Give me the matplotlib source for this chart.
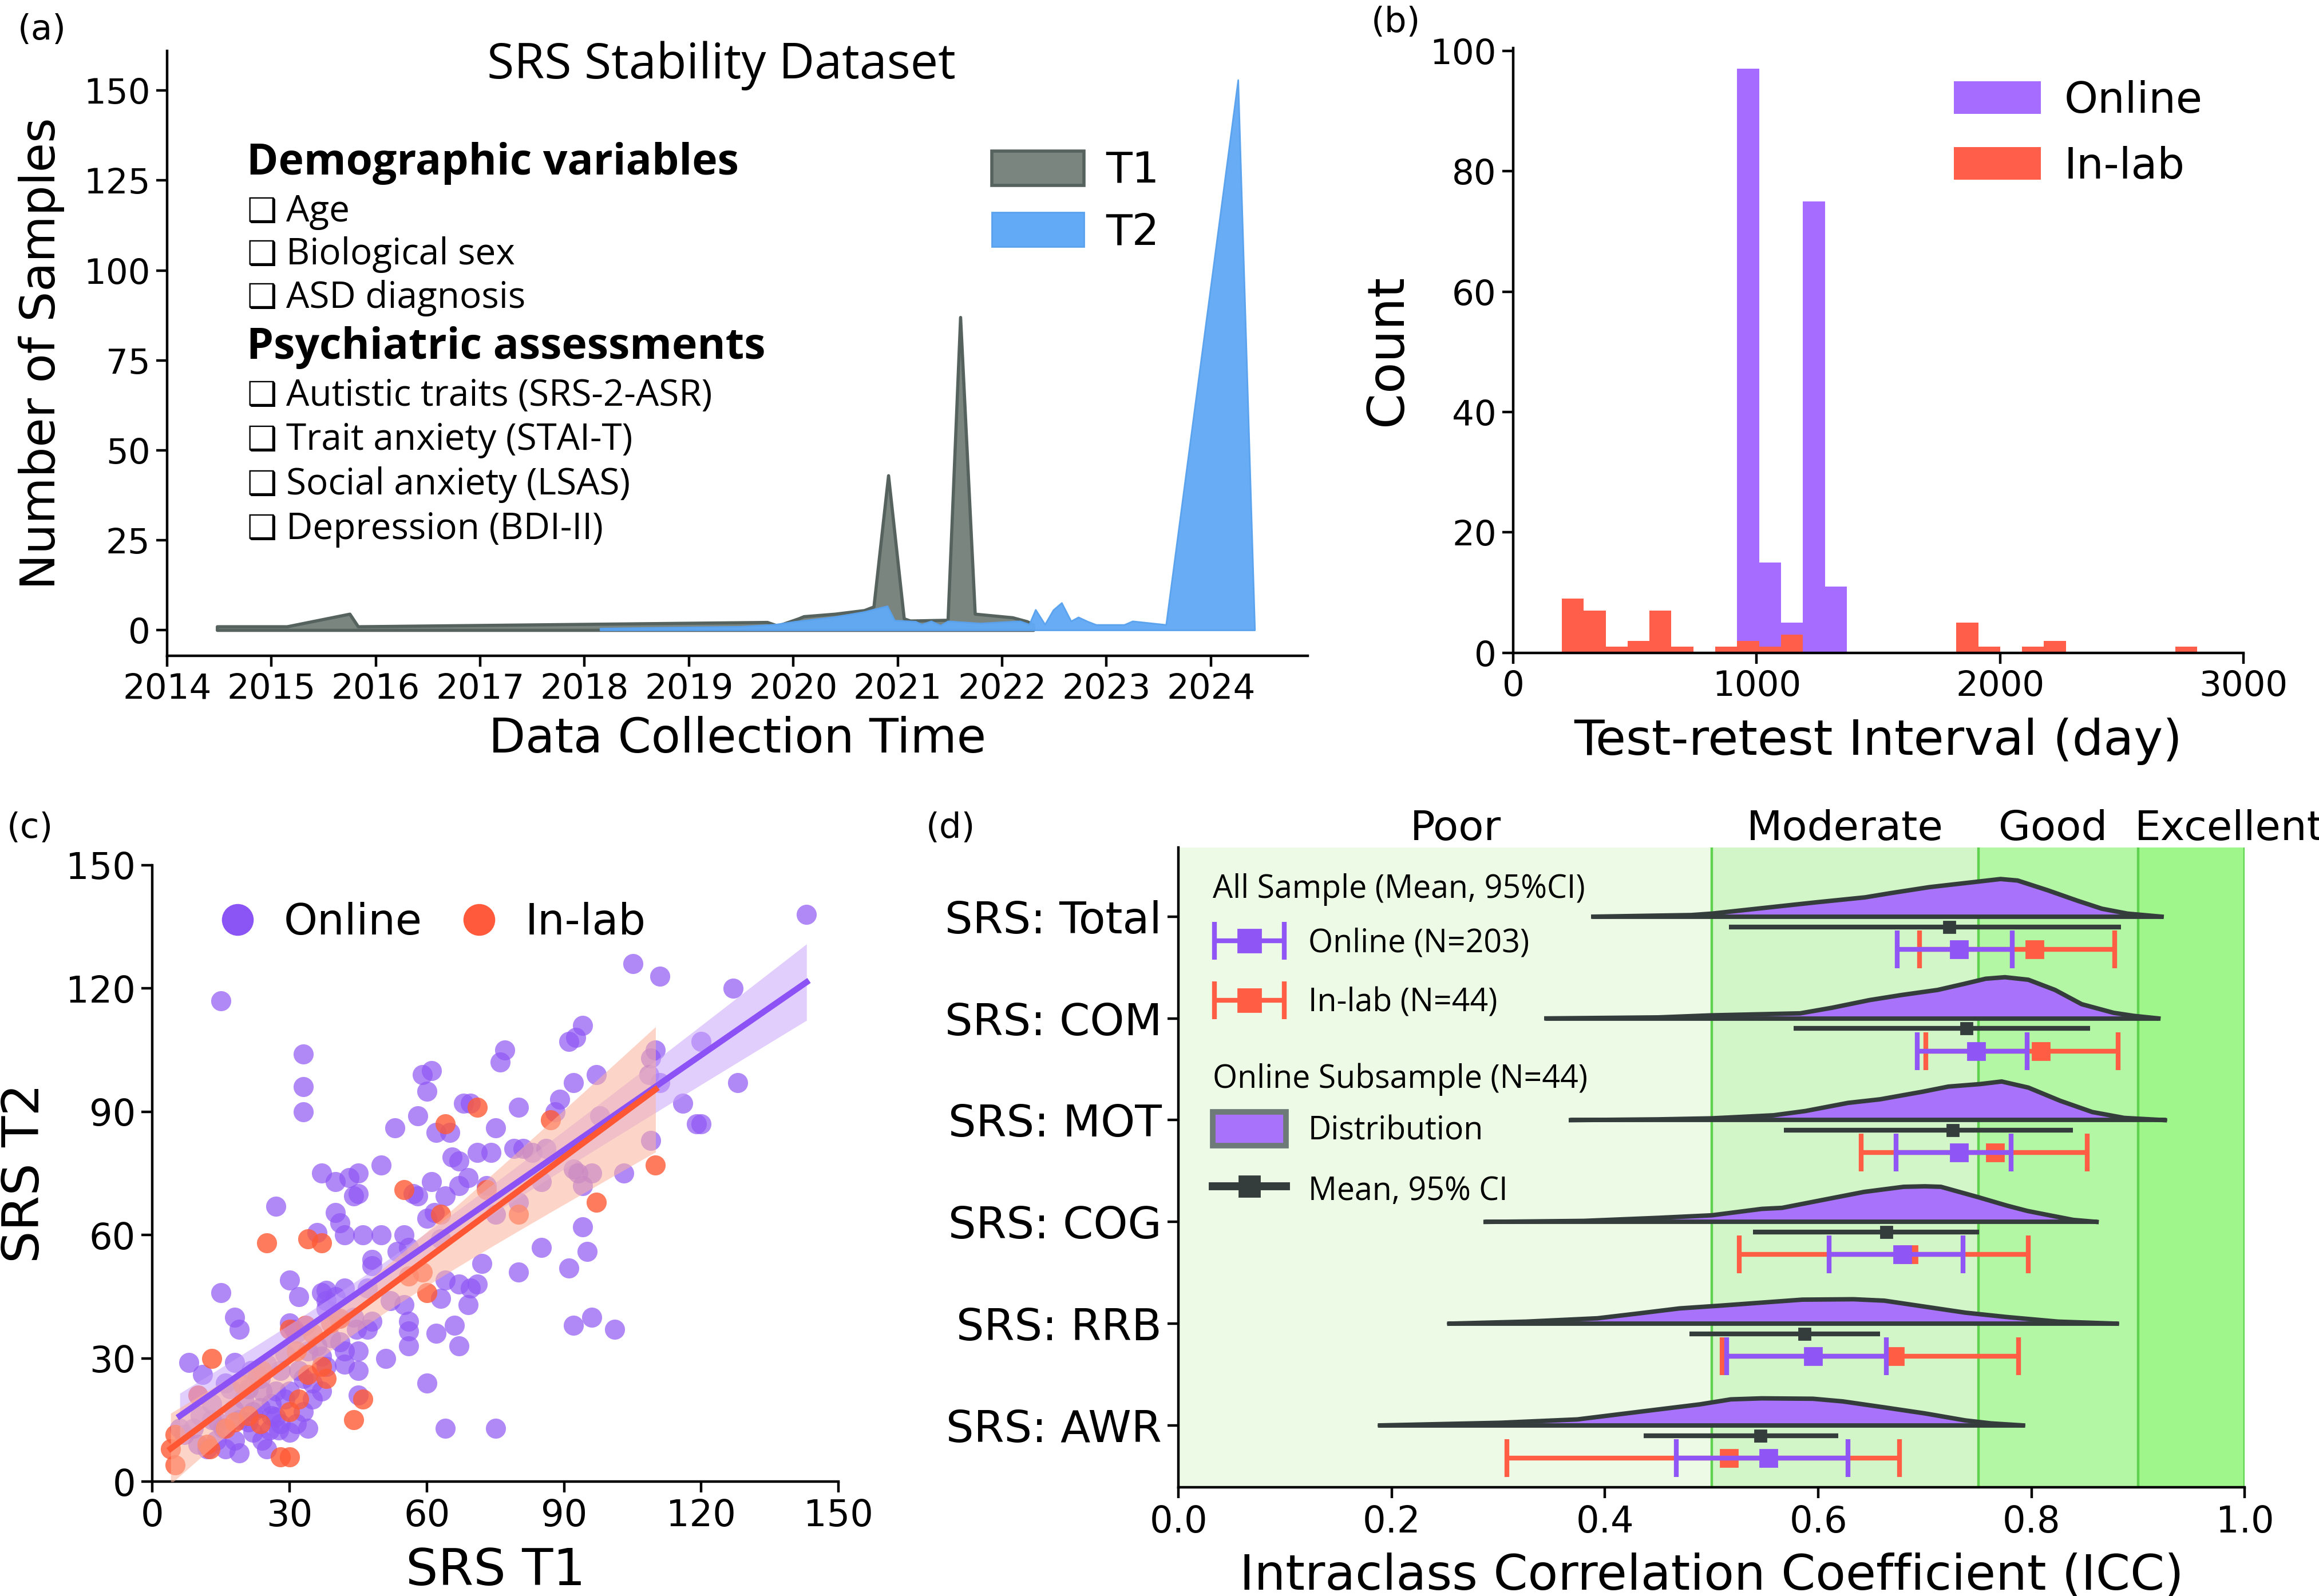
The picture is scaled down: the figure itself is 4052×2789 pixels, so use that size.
import numpy as np
import matplotlib.pyplot as plt
from matplotlib.patches import Patch
from matplotlib.lines import Line2D
from matplotlib.legend_handler import HandlerErrorbar
from matplotlib.container import ErrorbarContainer
import matplotlib.transforms as mtransforms

plt.rcParams['font.family'] = ['DejaVu Sans']
plt.rcParams['font.size'] = 22
plt.rcParams['axes.linewidth'] = 1.6
for k in ('xtick', 'ytick'):
    plt.rcParams[k + '.major.width'] = 1.6
    plt.rcParams[k + '.major.size'] = 7
    plt.rcParams[k + '.labelsize'] = 22

OPEN = ['Open Sans', 'DejaVu Sans']

# ---------------- (a) data collection timeline ----------------
t1_time = [2014.48, 2015.15, 2015.75, 2015.83, 2019.75, 2019.85, 2020.05, 2020.10, 2020.40,
           2020.68, 2020.77, 2020.91, 2021.06, 2021.12, 2021.48, 2021.60, 2021.74, 2022.10,
           2022.24, 2022.30]
t1_count = [1.0, 1.0, 4.5, 1.0, 2.2, 1.2, 3.2, 3.8, 4.5,
            5.5, 6.5, 43, 3.2, 2.6, 2.8, 87, 4.5, 3.5,
            2.4, 1.5]
t2_time = [2018.15, 2019.50, 2019.83, 2020.02, 2020.40, 2020.68, 2020.90, 2020.97, 2021.17,
           2021.23, 2021.32, 2021.41, 2021.48, 2021.79, 2021.97, 2022.17, 2022.26, 2022.32,
           2022.41, 2022.49, 2022.57, 2022.66, 2022.73, 2022.82, 2022.90, 2023.17, 2023.25,
           2023.57, 2024.26, 2024.42]
t2_count = [0.5, 1.0, 1.6, 2.4, 3.7, 5.1, 6.7, 2.7, 2.4,
            1.6, 2.5, 1.3, 2.5, 1.9, 2.2, 2.5, 1.6, 5.7,
            1.6, 5.6, 7.6, 2.5, 3.6, 2.4, 1.5, 1.5, 2.5,
            1.5, 153, 0.0]
years = list(range(2014, 2025))
demo_items = ['Age', 'Biological sex', 'ASD diagnosis']
psych_items = ['Autistic traits (SRS-2-ASR)', 'Trait anxiety (STAI-T)',
               'Social anxiety (LSAS)', 'Depression (BDI-II)']

# ---------------- (b) test-retest interval histogram ----------------
bin_start = 200
bin_width = 90
online_counts = [0, 0, 0, 0, 0, 0, 0, 0, 97, 15, 5, 75, 11, 0, 0,
                 0, 0, 0, 0, 0, 0, 0, 0, 0, 0, 0, 0, 0, 0]
inlab_counts = [9, 7, 1, 2, 7, 1, 0, 1, 2, 1, 3, 0, 0, 0, 0,
                0, 0, 0, 5, 1, 0, 1, 2, 0, 0, 0, 0, 0, 1]

# ---------------- (c) SRS T1 vs T2 ----------------
online_t1 = [143, 15, 105, 111, 127, 94, 92.5, 91, 77, 76,
             110, 109, 108.6, 120, 33, 33, 33, 59, 61, 60,
             111, 128, 92, 97, 116, 119, 120, 80, 89, 69.5,
             68, 58, 53, 75, 62, 65, 65.5, 67, 71, 74,
             79, 81, 83, 86, 109, 92, 93, 94, 96, 103,
             85, 37, 40, 43, 45, 45, 44, 50, 61, 57,
             58, 64, 67, 69, 73, 27, 40, 41, 42, 36,
             46, 50, 55, 60, 61.7, 63, 94, 75, 80, 85,
             95, 91, 80, 72, 48, 48, 53.5, 56, 30, 32,
             37, 38, 40, 42, 47, 38, 15, 18, 19, 52,
             55, 63, 64, 67, 69.5, 71, 69, 56, 56, 56,
             62, 66, 67, 48, 92, 96, 101, 42, 42, 45,
             45, 51, 37, 30, 31.5, 45, 60, 64, 75, 8,
             11, 18, 16, 17, 13, 6, 12, 19, 18, 21,
             25, 26, 26, 25.6, 27.6, 30, 31.5, 29, 35, 32,
             33, 23.6, 21, 10.5, 15.5, 9, 23.6, 27, 34, 31,
             44.6, 88, 97.8, 38, 40.7, 25, 21.6, 17.7, 14.4, 7,
             22, 24, 28, 33, 20, 14, 10, 16, 30, 35,
             28, 39, 36, 44, 24, 19, 13, 27, 34, 38,
             41, 47, 29, 22, 37]
online_t2 = [138, 117, 126, 123, 120, 111, 108, 107, 105, 102,
             105, 103, 99, 107, 104, 96, 90, 99, 100, 95,
             97, 97, 97, 99, 92, 87, 87, 91, 93, 92,
             92, 89, 86, 86, 85, 85, 79, 78, 80, 80,
             81, 81, 80, 81, 83, 76, 75, 72, 75, 75,
             73, 75, 73, 74, 75, 70, 69.5, 77, 73, 70,
             69.5, 69.5, 72, 74, 72, 67, 65.5, 63, 60, 60.5,
             60, 60, 60, 64, 65.5, 59, 62, 65, 68, 57,
             56, 52, 51, 53, 54, 52.5, 56, 57, 49, 45,
             46, 46.5, 45, 47, 47, 44, 46, 40, 37, 44,
             43, 44.5, 49, 48, 47, 48, 43, 39, 36.6, 33,
             36, 38, 33, 39, 38, 40, 37, 31.7, 28.6, 31.7,
             27, 30, 30.5, 38.5, 36, 21, 24, 13, 13, 29,
             26, 29, 24, 22.5, 19, 13, 8, 7, 10, 14.5,
             8, 19, 16, 12.6, 12.6, 22, 14, 20, 20, 27,
             25, 18, 22.5, 16, 13, 13, 25, 15.7, 31.7, 37,
             37, 90, 89, 42, 39.7, 28.6, 27, 17.6, 14.5, 11.4,
             12, 10, 14, 17, 20, 10, 9, 8, 12, 24,
             27, 35, 33, 40, 22, 15, 15, 22, 13, 28,
             34, 37, 31, 17, 22]
inlab_t1 = [71, 64, 55, 73, 97, 80, 63, 25, 34, 37,
            60, 59, 110, 19.7, 56, 87, 13, 10, 5, 4,
            5, 12, 12.6, 16, 18, 21, 23.6, 23, 24, 28,
            30, 30, 32, 31.5, 30, 33.5, 35, 34, 37, 38,
            39, 41, 44, 46]
inlab_t2 = [91, 87, 71, 71, 68, 65, 65, 58, 59, 58,
            46, 51, 77, 23.7, 50, 88, 30, 21, 11.4, 8,
            4, 9, 8, 13, 14.5, 16, 14, 26, 27, 6,
            6, 17, 20, 31.7, 37, 38, 36, 26, 28, 25,
            38.5, 39.7, 15, 20]

# ---------------- (d) ICC ----------------
scales = ['SRS: Total', 'SRS: COM', 'SRS: MOT', 'SRS: COG', 'SRS: RRB', 'SRS: AWR']
sub_mean = [0.723, 0.739, 0.726, 0.664, 0.587, 0.546]
sub_lo = [0.516, 0.577, 0.568, 0.539, 0.479, 0.436]
sub_hi = [0.884, 0.855, 0.839, 0.751, 0.658, 0.619]
online_mean = [0.732, 0.748, 0.732, 0.679, 0.595, 0.553]
online_lo = [0.674, 0.693, 0.673, 0.610, 0.514, 0.467]
online_hi = [0.782, 0.796, 0.781, 0.736, 0.664, 0.628]
inlab_mean = [0.803, 0.809, 0.766, 0.685, 0.672, 0.516]
inlab_lo = [0.695, 0.701, 0.640, 0.526, 0.510, 0.308]
inlab_hi = [0.878, 0.881, 0.852, 0.797, 0.788, 0.676]
# half-violin profiles (ICC value, density height in row units)
vio_x = [
    [0.389, 0.481, 0.500, 0.551, 0.597, 0.644, 0.667, 0.704, 0.746, 0.771, 0.787, 0.815, 0.843, 0.866, 0.890, 0.922],
    [0.345, 0.450, 0.499, 0.583, 0.613, 0.648, 0.678, 0.712, 0.737, 0.757, 0.775, 0.797, 0.822, 0.847, 0.877, 0.896, 0.919],
    [0.368, 0.450, 0.500, 0.558, 0.588, 0.628, 0.658, 0.698, 0.722, 0.752, 0.772, 0.797, 0.827, 0.857, 0.887, 0.925],
    [0.288, 0.380, 0.450, 0.500, 0.547, 0.566, 0.614, 0.643, 0.680, 0.700, 0.715, 0.749, 0.777, 0.796, 0.812, 0.839, 0.861],
    [0.254, 0.326, 0.393, 0.431, 0.470, 0.508, 0.547, 0.585, 0.633, 0.662, 0.700, 0.738, 0.777, 0.825, 0.880],
    [0.189, 0.302, 0.374, 0.412, 0.450, 0.489, 0.518, 0.547, 0.595, 0.623, 0.662, 0.700, 0.738, 0.762, 0.792],
]
vio_h = [
    [0.0, 0.016, 0.03, 0.088, 0.14, 0.19, 0.23, 0.29, 0.34, 0.37, 0.355, 0.26, 0.157, 0.078, 0.03, 0.0],
    [0.0, 0.01, 0.03, 0.05, 0.105, 0.18, 0.23, 0.28, 0.34, 0.39, 0.405, 0.38, 0.28, 0.14, 0.055, 0.025, 0.0],
    [0.0, 0.008, 0.018, 0.048, 0.09, 0.17, 0.205, 0.28, 0.33, 0.355, 0.38, 0.32, 0.19, 0.08, 0.022, 0.0],
    [0.0, 0.01, 0.04, 0.065, 0.128, 0.138, 0.236, 0.295, 0.345, 0.35, 0.345, 0.246, 0.16, 0.108, 0.075, 0.02, 0.0],
    [0.0, 0.02, 0.053, 0.1, 0.15, 0.177, 0.207, 0.236, 0.24, 0.226, 0.167, 0.108, 0.065, 0.02, 0.0],
    [0.0, 0.026, 0.059, 0.108, 0.157, 0.207, 0.256, 0.266, 0.262, 0.236, 0.177, 0.118, 0.049, 0.02, 0.0],
]
icc_levels = ['Poor', 'Moderate', 'Good', 'Excellent']
icc_edges = [0.0, 0.5, 0.75, 0.9, 1.0]
icc_colors = ['#edfae5', '#d3f6c8', '#b3f6a3', '#9ff68a']

PURPLE = '#a66cff'
RED = '#ff5e4a'
DARK = '#343d3c'

fig = plt.figure(figsize=(20.26, 13.945), dpi=200)
ax_a = fig.add_axes([0.072, 0.589, 0.492, 0.379])
ax_b = fig.add_axes([0.6525, 0.591, 0.315, 0.379])
ax_c = fig.add_axes([0.0657, 0.0717, 0.2959, 0.3863])
ax_d = fig.add_axes([0.5082, 0.068, 0.4598, 0.401])
for ax in (ax_a, ax_b, ax_c, ax_d):
    ax.spines['top'].set_visible(False)
    ax.spines['right'].set_visible(False)

# ---- (a) ----
ax_a.fill_between(t1_time, t1_count, facecolor='#7a8580', edgecolor='#56625e', lw=2)
ax_a.fill_between(t2_time, t2_count, facecolor='#62aaf5', edgecolor='#5aa2ee', lw=1, alpha=0.97)
ax_a.set_xlim(2014, 2024.93)
ax_a.set_ylim(-7.2, 161)
ax_a.set_xticks(years)
ax_a.set_yticks([0, 25, 50, 75, 100, 125, 150])
ax_a.set_xlabel('Data Collection Time', fontsize=30, labelpad=6)
ax_a.set_ylabel('Number of Samples', fontsize=30, labelpad=12)
ax_a.text(0.486, 0.976, 'SRS Stability Dataset', transform=ax_a.transAxes, family=OPEN,
          fontsize=31, ha='center', va='center')


def item(y, s):
    ax_a.text(0.070, y, '\u2751', transform=ax_a.transAxes, fontsize=21, fontweight='bold',
              va='center')
    ax_a.text(0.1045, y, s, transform=ax_a.transAxes, family=OPEN, fontsize=23, va='center')


ax_a.text(0.070, 0.814, 'Demographic variables', transform=ax_a.transAxes, family=OPEN,
          fontsize=27, fontweight='bold', va='center')
for i, s in enumerate(demo_items):
    item(0.734 - 0.071 * i, s)
ax_a.text(0.070, 0.510, 'Psychiatric assessments', transform=ax_a.transAxes, family=OPEN,
          fontsize=27, fontweight='bold', va='center')
for i, s in enumerate(psych_items):
    item(0.430 - 0.0735 * i, s)
ax_a.legend([Patch(facecolor='#7a8580', edgecolor='#56625e', lw=2),
             Patch(facecolor='#62aaf5', edgecolor='#5aa2ee', lw=1)], ['T1', 'T2'],
            loc='center left', bbox_to_anchor=(0.723, 0.7506), frameon=False, fontsize=27,
            handlelength=2.15, handleheight=0.86, handletextpad=0.5, labelspacing=0.46,
            borderpad=0, borderaxespad=0)

# ---- (b) ----
lefts = bin_start + bin_width * np.arange(len(online_counts))
ax_b.bar(lefts, online_counts, width=bin_width, align='edge', color=PURPLE, label='Online')
ax_b.bar(lefts, inlab_counts, width=bin_width, align='edge', color=RED, label='In-lab')
ax_b.set_xlim(0, 3000)
ax_b.set_ylim(0, 100.5)
ax_b.set_xticks([0, 1000, 2000, 3000])
ax_b.set_yticks([0, 20, 40, 60, 80, 100])
ax_b.set_xlabel('Test-retest Interval (day)', fontsize=31, labelpad=9)
ax_b.set_ylabel('Count', fontsize=32, labelpad=11)
ax_b.legend(loc='center left', bbox_to_anchor=(0.603, 0.858), frameon=False, fontsize=27,
            handlelength=2.03, handleheight=0.79, handletextpad=0.55, labelspacing=0.56,
            borderpad=0, borderaxespad=0)


# ---- (c) ----
def fit_band(x, y, t):
    x = np.asarray(x, float)
    y = np.asarray(y, float)
    n = len(x)
    b, a = np.polyfit(x, y, 1)
    xs = np.linspace(x.min(), x.max(), 100)
    s = np.sqrt(np.sum((y - (a + b * x)) ** 2) / (n - 2))
    sxx = np.sum((x - x.mean()) ** 2)
    se = s * np.sqrt(1 / n + (xs - x.mean()) ** 2 / sxx)
    return xs, a + b * xs, t * se


ax_c.scatter(online_t1, online_t2, s=160, color='#8f57f5', alpha=0.7, lw=0, zorder=2)
ax_c.scatter(inlab_t1, inlab_t2, s=160, color='#ff5a36', alpha=0.8, lw=0, zorder=2)
for xv, yv, c, band, t in [(online_t1, online_t2, '#8c52f5', '#c9a6fb', 1.97),
                           (inlab_t1, inlab_t2, '#ff5733', '#fdb49c', 2.3)]:
    xs, yh, ci = fit_band(xv, yv, t)
    ax_c.fill_between(xs, yh - ci, yh + ci, color=band, alpha=0.55, lw=0, zorder=3)
    ax_c.plot(xs, yh, color=c, lw=3.8, zorder=4)
ax_c.set_xlim(0, 150)
ax_c.set_ylim(0, 150)
ax_c.set_xticks(range(0, 151, 30))
ax_c.set_yticks(range(0, 151, 30))
ax_c.tick_params(labelsize=23)
ax_c.set_xlabel('SRS T1', fontsize=32, labelpad=8)
ax_c.set_ylabel('SRS T2', fontsize=32, labelpad=10)
ax_c.legend([Line2D([], [], ls='', marker='o', ms=19, color='#8b55f5'),
             Line2D([], [], ls='', marker='o', ms=19, color='#ff5a3c')], ['Online', 'In-lab'],
            ncol=2, loc='center left', bbox_to_anchor=(0.093, 0.906), frameon=False, fontsize=27,
            handlelength=1.0, handletextpad=0.57, columnspacing=0.83, borderpad=0,
            borderaxespad=0)

# ---- (d) ----
pos = np.arange(len(scales))
for lo, hi, c in zip(icc_edges[:-1], icc_edges[1:], icc_colors):
    ax_d.axvspan(lo, hi, color=c, lw=0, zorder=0)
for v in icc_edges[1:]:
    ax_d.axvline(v, color='#5fd34f', lw=1.6, zorder=0.5)
for i in range(len(scales)):
    xv = np.array(vio_x[i])
    hv = np.array(vio_h[i])
    ax_d.fill_between(xv, i, i - hv, color='#a872fa', lw=0, zorder=2)
    ax_d.plot(xv, i - hv, color=DARK, lw=2.8, zorder=3, solid_joinstyle='round')
    ax_d.plot([xv[0], xv[-1]], [i, i], color=DARK, lw=2.8, zorder=3, solid_capstyle='round')

sm, slo, shi = map(np.array, (sub_mean, sub_lo, sub_hi))
om, olo, ohi = map(np.array, (online_mean, online_lo, online_hi))
im, ilo, ihi = map(np.array, (inlab_mean, inlab_lo, inlab_hi))
ax_d.errorbar(sm, pos + 0.1, xerr=[sm - slo, shi - sm], fmt='s', color=DARK, ms=7, lw=3,
              capsize=0, zorder=5)
eb_in = ax_d.errorbar(im, pos + 0.32, xerr=[im - ilo, ihi - im], fmt='s', color='#ff5e45',
                      ms=10.5, lw=3, capsize=12, capthick=3, zorder=5)
eb_on = ax_d.errorbar(om, pos + 0.32, xerr=[om - olo, ohi - om], fmt='s', color='#9055f5',
                      ms=10.5, lw=3, capsize=12, capthick=3, zorder=6)
ax_d.set_xlim(0, 1.0)
ax_d.set_ylim(5.61, -0.68)
ax_d.set_yticks(pos)
ax_d.set_yticklabels(scales, fontsize=27.5)
ax_d.set_xticks([0, 0.2, 0.4, 0.6, 0.8, 1.0])
ax_d.set_xticklabels(['0.0', '0.2', '0.4', '0.6', '0.8', '1.0'], fontsize=23)
ax_d.set_xlabel('Intraclass Correlation Coefficient (ICC)', fontsize=31, labelpad=8)
trans = mtransforms.blended_transform_factory(ax_d.transData, ax_d.transAxes)
for name, xc in zip(icc_levels, [0.26, 0.625, 0.82, 0.985]):
    ax_d.text(xc, 1.012, name, transform=trans, ha='center', va='baseline', fontsize=26)

leg1 = ax_d.legend([eb_on, eb_in], ['Online (N=203)', 'In-lab (N=44)'],
                   title='All Sample (Mean, 95%CI)', loc='upper left', bbox_to_anchor=(0.032, 0.96),
                   frameon=False, prop={'family': OPEN, 'size': 20},
                   title_fontproperties={'family': OPEN, 'size': 20}, alignment='left',
                   borderpad=0, borderaxespad=0, handlelength=2.3, handletextpad=0.7,
                   labelspacing=0.85, markerscale=1.4,
                   handler_map={ErrorbarContainer: HandlerErrorbar(xerr_size=1.1)})
leg1._legend_box.sep = 13.5
ax_d.add_artist(leg1)
leg2 = ax_d.legend([Patch(facecolor='#a872fa', edgecolor='#6e7a77', lw=3.5),
                    Line2D([], [], color=DARK, lw=5, marker='s', ms=13)],
                   ['Distribution', 'Mean, 95% CI'], title='Online Subsample (N=44)',
                   loc='upper left', bbox_to_anchor=(0.032, 0.663), frameon=False,
                   prop={'family': OPEN, 'size': 20},
                   title_fontproperties={'family': OPEN, 'size': 20}, alignment='left',
                   borderpad=0, borderaxespad=0, handlelength=2.3, handleheight=1.25,
                   handletextpad=0.7, labelspacing=0.78)
leg2._legend_box.sep = 10

for lab, x, y in [('(a)', 0.018, 0.981), ('(b)', 0.602, 0.986), ('(c)', 0.013, 0.481), ('(d)', 0.41, 0.481)]:
    fig.text(x, y, lab, fontsize=22, ha='center', va='center')

fig.savefig('out.png', dpi=200)
